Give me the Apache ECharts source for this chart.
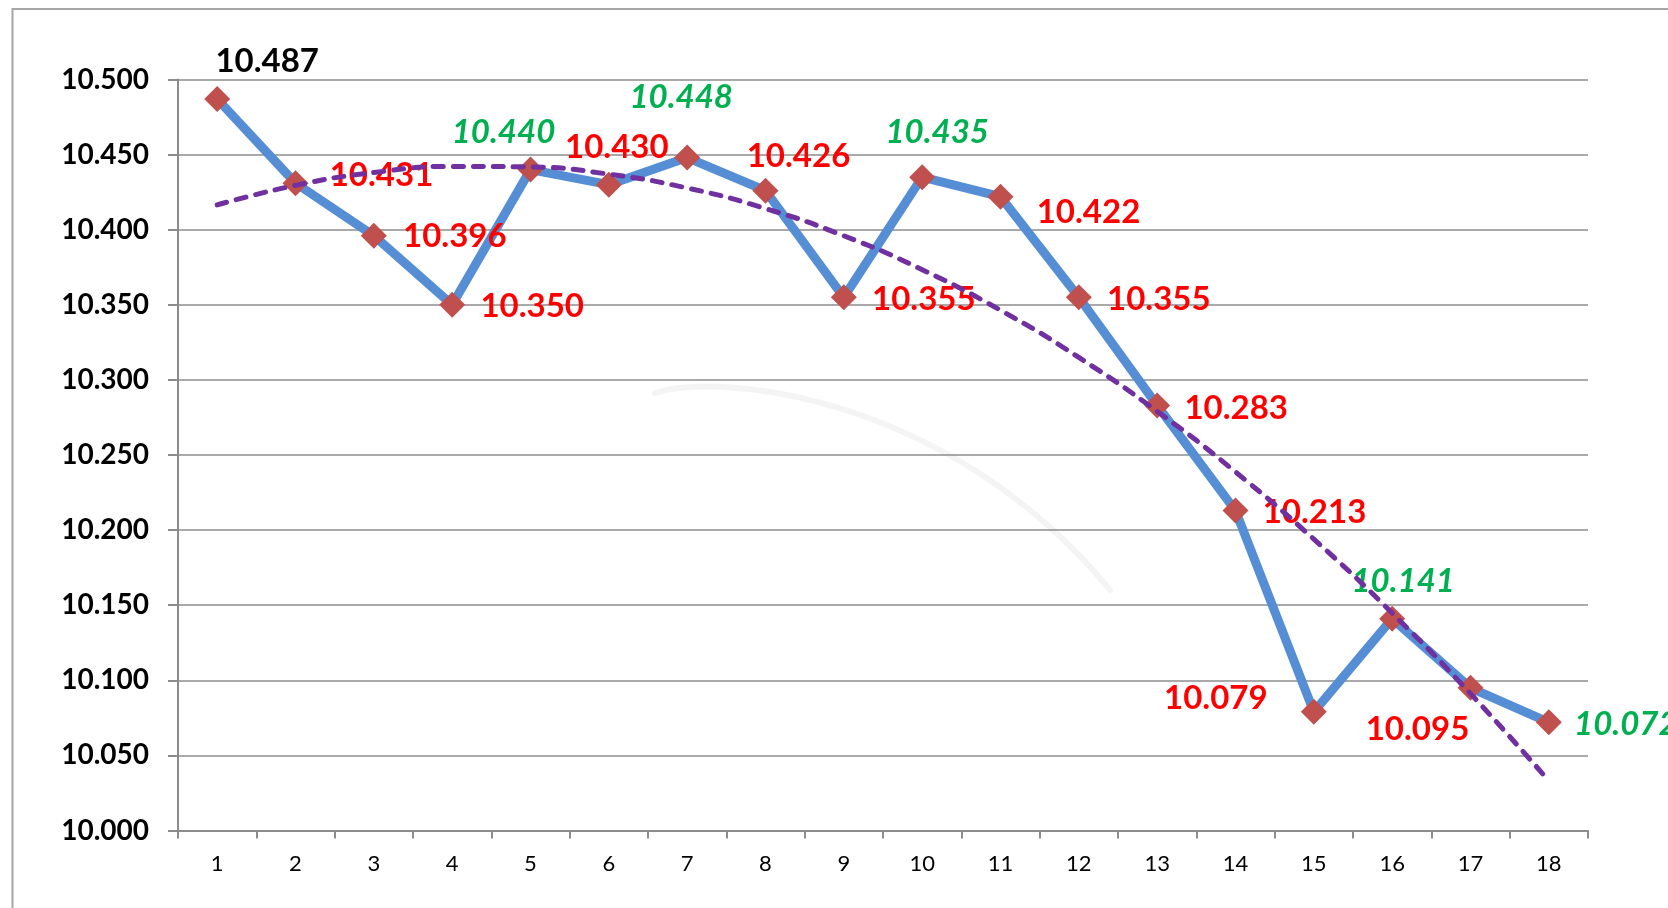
<!DOCTYPE html>
<html>
<head>
<meta charset="utf-8">
<script src="https://cdn.jsdelivr.net/npm/echarts@6/dist/echarts.min.js"></script>
<style>
html,body{margin:0;padding:0;background:#fff;overflow:hidden}
#c{width:1668px;height:908px}
</style>
</head>
<body>
<div id="c"></div>
<script>
// ---- data ----
const categories = ['1','2','3','4','5','6','7','8','9','10','11','12','13','14','15','16','17','18'];
const values = [10.487, 10.431, 10.396, 10.350, 10.440, 10.430, 10.448, 10.426, 10.355,
                10.435, 10.422, 10.355, 10.283, 10.213, 10.079, 10.141, 10.095, 10.072];
const yMin = 10.0, yMax = 10.5, yInterval = 0.05;

// ---- label styling / placement (layout, not data) ----
const labelKinds = ['black','red','red','red','green','red','green','red','red',
                    'green','red','red','red','red','red','green','red','green'];
const labelOffsets = [[50,-38],[86,-8],[81,1],[80,2],[-27,-37],[8,-37],[-6,-60],[33,-34],[80,2],
                      [15,-45],[88,16],[80,2],[79,3],[79,2],[-98,-13],[11,-37],[-53,42],[77,2]];

const FONT = 'Lato, "Liberation Sans", sans-serif';
const kindStyle = {
  black: {color:'#000000', fontStyle:'normal'},
  red:   {color:'#FF0000', fontStyle:'normal'},
  green: {color:'#00B050', fontStyle:'italic'}
};

// polynomial (order 2) trendline: least-squares fit of the series
function quadFit(ys){
  const n = ys.length;
  let S=[0,0,0,0,0], T=[0,0,0];
  for(let i=0;i<n;i++){
    const x=i+1, y=ys[i];
    let p=1;
    for(let k=0;k<5;k++){ S[k]+=p; if(k<3) T[k]+=p*y; p*=x; }
  }
  const A=[[S[0],S[1],S[2],T[0]],[S[1],S[2],S[3],T[1]],[S[2],S[3],S[4],T[2]]];
  for(let c=0;c<3;c++){
    for(let r=c+1;r<3;r++){
      const f=A[r][c]/A[c][c];
      for(let k=c;k<4;k++) A[r][k]-=f*A[c][k];
    }
  }
  const sol=[0,0,0];
  for(let r=2;r>=0;r--){
    let s=A[r][3];
    for(let k=r+1;k<3;k++) s-=A[r][k]*sol[k];
    sol[r]=s/A[r][r];
  }
  return ys.map((_,i)=>{const x=i+1; return sol[0]+sol[1]*x+sol[2]*x*x;});
}
const trend = quadFit(values);

const mainData = values.map((v,i)=>({
  value: v,
  label: {
    show: true,
    position: 'inside',
    offset: labelOffsets[i],
    formatter: v.toFixed(3),
    color: kindStyle[labelKinds[i]].color,
    fontStyle: kindStyle[labelKinds[i]].fontStyle,
    fontWeight: 'bold',
    fontSize: 33,
    fontFamily: FONT
  }
}));

const chart = echarts.init(document.getElementById('c'), null, {renderer:'canvas'});
chart.setOption({
  animation: false,
  backgroundColor: '#ffffff',
  grid: {left: 178, right: 80, top: 79.5, bottom: 77.5, containLabel: false},
  graphic: [
    {type:'rect', z:-10, shape:{x:12.5, y:9, width:1720, height:1000},
     style:{fill:'none', stroke:'#a6a6a6', lineWidth:2}},
    {type:'bezierCurve', z:-5,
     shape:{x1:655,y1:393,cpx1:720,cpy1:372,cpx2:950,cpy2:395,x2:1110,y2:590},
     style:{fill:'none', stroke:'rgba(0,0,0,0.045)', lineWidth:6, lineCap:'round'}}
  ],
  xAxis: {
    type: 'category',
    data: categories,
    boundaryGap: true,
    axisLine: {lineStyle:{color:'#8c8c8c', width:2}},
    axisTick: {show:true, length:8, inside:false, lineStyle:{color:'#8c8c8c', width:2}},
    axisLabel: {color:'#000', fontSize:22, fontFamily:FONT, margin:22},
    splitLine: {show:false}
  },
  yAxis: {
    type: 'value',
    min: yMin, max: yMax, interval: yInterval,
    axisLine: {show:true, lineStyle:{color:'#8c8c8c', width:2}},
    axisTick: {show:true, length:10, lineStyle:{color:'#8c8c8c', width:2}},
    axisLabel: {color:'#000', fontSize:28, fontWeight:'bold', fontFamily:FONT, margin:29,
                formatter: v => v.toFixed(3)},
    splitLine: {show:true, lineStyle:{color:'#8c8c8c', width:1.6}}
  },
  series: [
    {
      name: 'values',
      type: 'line',
      z: 2,
      data: mainData,
      symbol: 'diamond',
      symbolSize: 26,
      itemStyle: {color:'#C0504D'},
      lineStyle: {color:'#558ED5', width:9, join:'round'},
      emphasis: {disabled:true}
    },
    {
      name: 'trend',
      type: 'line',
      z: 10,
      data: trend,
      smooth: true,
      symbol: 'none',
      lineStyle: {color:'#7030A0', width:5, type:[10,10], cap:'round'},
      emphasis: {disabled:true}
    }
  ]
});
</script>
</body>
</html>
